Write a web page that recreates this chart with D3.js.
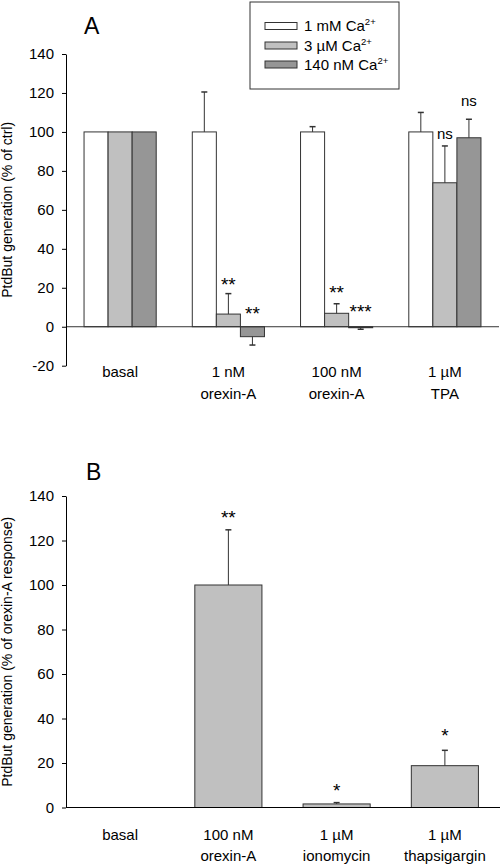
<!DOCTYPE html>
<html>
<head>
<meta charset="utf-8">
<script src="https://cdn.jsdelivr.net/npm/d3@7"></script>
<style>
  html, body { margin: 0; padding: 0; background: #fff; }
  svg text { font-family: "Liberation Sans", Arial, sans-serif; fill: #000; }
</style>
</head>
<body>
<svg id="chart" width="502" height="864"></svg>
<script>
// ---------- DATA ----------
// Panel A
const categoriesA = [["basal"], ["1 nM", "orexin-A"], ["100 nM", "orexin-A"], ["1 \u00b5M", "TPA"]];
const seriesNamesA = [["1 mM Ca", "2+"], ["3 \u00b5M Ca", "2+"], ["140 nM Ca", "2+"]];
const values1mM = [100, 100, 100, 100];
const err1mM = [0, 20.5, 2.7, 10];
const values3uM = [100, 6.5, 6.9, 73.9];
const err3uM = [0, 10.5, 4.9, 18.9];
const values140nM = [100, -5.1, -0.5, 97];
const err140nM = [0, -4.3, -0.8, 9.5];
const sig3uM = ["", "**", "**", "ns"];
const sigPos3uM = [null, 24.0, 19.9, 98.6];
const sig140nM = ["", "**", "***", "ns"];
const sigPos140nM = [null, 9.1, 10.3, 115.5];
const ticksA = [-20, 0, 20, 40, 60, 80, 100, 120, 140];

// Panel B
const categoriesB = [["basal"], ["100 nM", "orexin-A"], ["1 \u00b5M", "ionomycin"], ["1 \u00b5M", "thapsigargin"]];
const valuesB = [null, 100, 1.6, 18.8];
const errB = [0, 24.8, 0.6, 6.9];
const sigB = ["", "**", "*", "*"];
const sigPosB = [null, 132.4, 9.7, 34.1];
const ticksB = [0, 20, 40, 60, 80, 100, 120, 140];

// ---------- STYLE ----------
const fills = ["#ffffff", "#c0c0c0", "#969696"];
const outline = "#333";
const fontSize = 15;
const titleSize = 14;
const starSize = 19;

const svg = d3.select("#chart");

function yAxisDraw(g, y, ticks, x0) {
  const ax = d3.axisLeft(y).tickValues(ticks).tickSize(4).tickSizeOuter(0).tickPadding(8)
    .tickFormat(d => String(d));
  const gg = g.append("g").attr("transform", `translate(${x0},0)`).call(ax);
  gg.select(".domain").attr("stroke", "#000");
  gg.selectAll(".tick line").attr("stroke", "#000");
  gg.selectAll(".tick text").attr("font-size", fontSize).attr("font-family", "Liberation Sans, Arial, sans-serif").attr("fill", "#000");
  return gg;
}

function errBar(g, xc, y, v, e) {
  if (!e) return;
  const y1 = y(v), y2 = y(v + e);
  g.append("line").attr("x1", xc).attr("x2", xc).attr("y1", y1).attr("y2", y2)
    .attr("stroke", outline).attr("stroke-width", 1);
  g.append("line").attr("x1", xc - 3).attr("x2", xc + 3).attr("y1", y2).attr("y2", y2)
    .attr("stroke", outline).attr("stroke-width", 1.5);
}

function sigLabel(g, xc, y, text, pos) {
  if (!text) return;
  const isStar = text.indexOf("*") >= 0;
  g.append("text").attr("x", xc).attr("y", y(pos))
    .attr("dy", isStar ? "0.57em" : "0.27em")
    .attr("text-anchor", "middle")
    .attr("font-size", isStar ? starSize : fontSize)
    .text(text);
}

function xLabels(g, x, cats, yLine1, lineGap) {
  cats.forEach((lines, i) => {
    const xc = x(i) + x.bandwidth() / 2;
    lines.forEach((t, j) => {
      g.append("text").attr("x", xc).attr("y", yLine1 + j * lineGap)
        .attr("text-anchor", "middle").attr("font-size", fontSize).text(t);
    });
  });
}

// ---------- PANEL A ----------
{
  const g = svg.append("g");
  const x = d3.scaleBand().domain(d3.range(categoriesA.length)).range([66, 499]).padding(0);
  const y = d3.scaleLinear().domain([-20, 140]).range([365.7, 54]);
  const groupW = x.bandwidth() * 2 / 3;
  const xs = d3.scaleBand().domain([0, 1, 2]).range([0, groupW]).padding(0);
  const allVals = [values1mM, values3uM, values140nM];
  const allErr = [err1mM, err3uM, err140nM];

  allVals.forEach((vals, s) => {
    vals.forEach((v, i) => {
      const bx = x(i) + (x.bandwidth() - groupW) / 2 + xs(s);
      g.append("rect")
        .attr("x", bx).attr("width", xs.bandwidth())
        .attr("y", Math.min(y(v), y(0))).attr("height", Math.abs(y(v) - y(0)))
        .attr("fill", fills[s]).attr("stroke", outline).attr("stroke-width", 1);
    });
  });
  allVals.forEach((vals, s) => {
    vals.forEach((v, i) => {
      const xc = x(i) + (x.bandwidth() - groupW) / 2 + xs(s) + xs.bandwidth() / 2;
      errBar(g, xc, y, v, allErr[s][i]);
    });
  });
  g.append("line").attr("x1", 66).attr("x2", 499).attr("y1", y(0)).attr("y2", y(0))
    .attr("stroke", "#333").attr("stroke-width", 1);
  yAxisDraw(g, y, ticksA, 66);

  [[sig3uM, sigPos3uM, 1], [sig140nM, sigPos140nM, 2]].forEach(([sig, pos, s]) => {
    sig.forEach((t, i) => {
      const xc = x(i) + (x.bandwidth() - groupW) / 2 + xs(s) + xs.bandwidth() / 2;
      sigLabel(g, xc, y, t, pos[i]);
    });
  });

  xLabels(g, x, categoriesA, 377, 21.5);

  g.append("text").attr("transform", `translate(12,${(y(-20) + y(140)) / 2}) rotate(-90)`)
    .attr("text-anchor", "middle").attr("font-size", titleSize)
    .text("PtdBut generation (% of ctrl)");

  g.append("text").attr("x", 84).attr("y", 33.5).attr("font-size", 23).text("A");

  const lg = g.append("g");
  lg.append("rect").attr("x", 250).attr("y", 2).attr("width", 149).attr("height", 87)
    .attr("fill", "#fff").attr("stroke", "#333").attr("stroke-width", 1);
  const rowY = [26, 45.5, 64.5];
  seriesNamesA.forEach((nm, s) => {
    lg.append("rect").attr("x", 265).attr("y", rowY[s] - 3.5).attr("width", 32).attr("height", 7)
      .attr("fill", fills[s]).attr("stroke", outline).attr("stroke-width", 1);
    const t = lg.append("text").attr("x", 304).attr("y", rowY[s] + 5).attr("font-size", fontSize);
    t.append("tspan").text(nm[0]);
    t.append("tspan").attr("font-size", 9.5).attr("dy", -6).text(nm[1]);
  });
}

// ---------- PANEL B ----------
{
  const g = svg.append("g");
  const x = d3.scaleBand().domain(d3.range(categoriesB.length)).range([66, 499]).padding(0);
  const y = d3.scaleLinear().domain([0, 140]).range([807.5, 496]);
  const bw = x.bandwidth() * 0.62;

  valuesB.forEach((v, i) => {
    if (v == null) return;
    const bx = x(i) + (x.bandwidth() - bw) / 2;
    g.append("rect").attr("x", bx).attr("width", bw)
      .attr("y", y(v)).attr("height", y(0) - y(v))
      .attr("fill", fills[1]).attr("stroke", outline).attr("stroke-width", 1);
  });
  valuesB.forEach((v, i) => {
    if (v == null) return;
    errBar(g, x(i) + x.bandwidth() / 2, y, v, errB[i]);
  });
  g.append("line").attr("x1", 66).attr("x2", 500).attr("y1", y(0)).attr("y2", y(0))
    .attr("stroke", "#000").attr("stroke-width", 1);
  yAxisDraw(g, y, ticksB, 66);

  sigB.forEach((t, i) => sigLabel(g, x(i) + x.bandwidth() / 2, y, t, sigPosB[i]));

  xLabels(g, x, categoriesB, 839.5, 21.5);

  g.append("text").attr("transform", `translate(12,${(y(0) + y(140)) / 2}) rotate(-90)`)
    .attr("text-anchor", "middle").attr("font-size", titleSize)
    .text("PtdBut generation (% of orexin-A response)");

  g.append("text").attr("x", 86).attr("y", 480).attr("font-size", 23).text("B");
}
</script>
</body>
</html>
